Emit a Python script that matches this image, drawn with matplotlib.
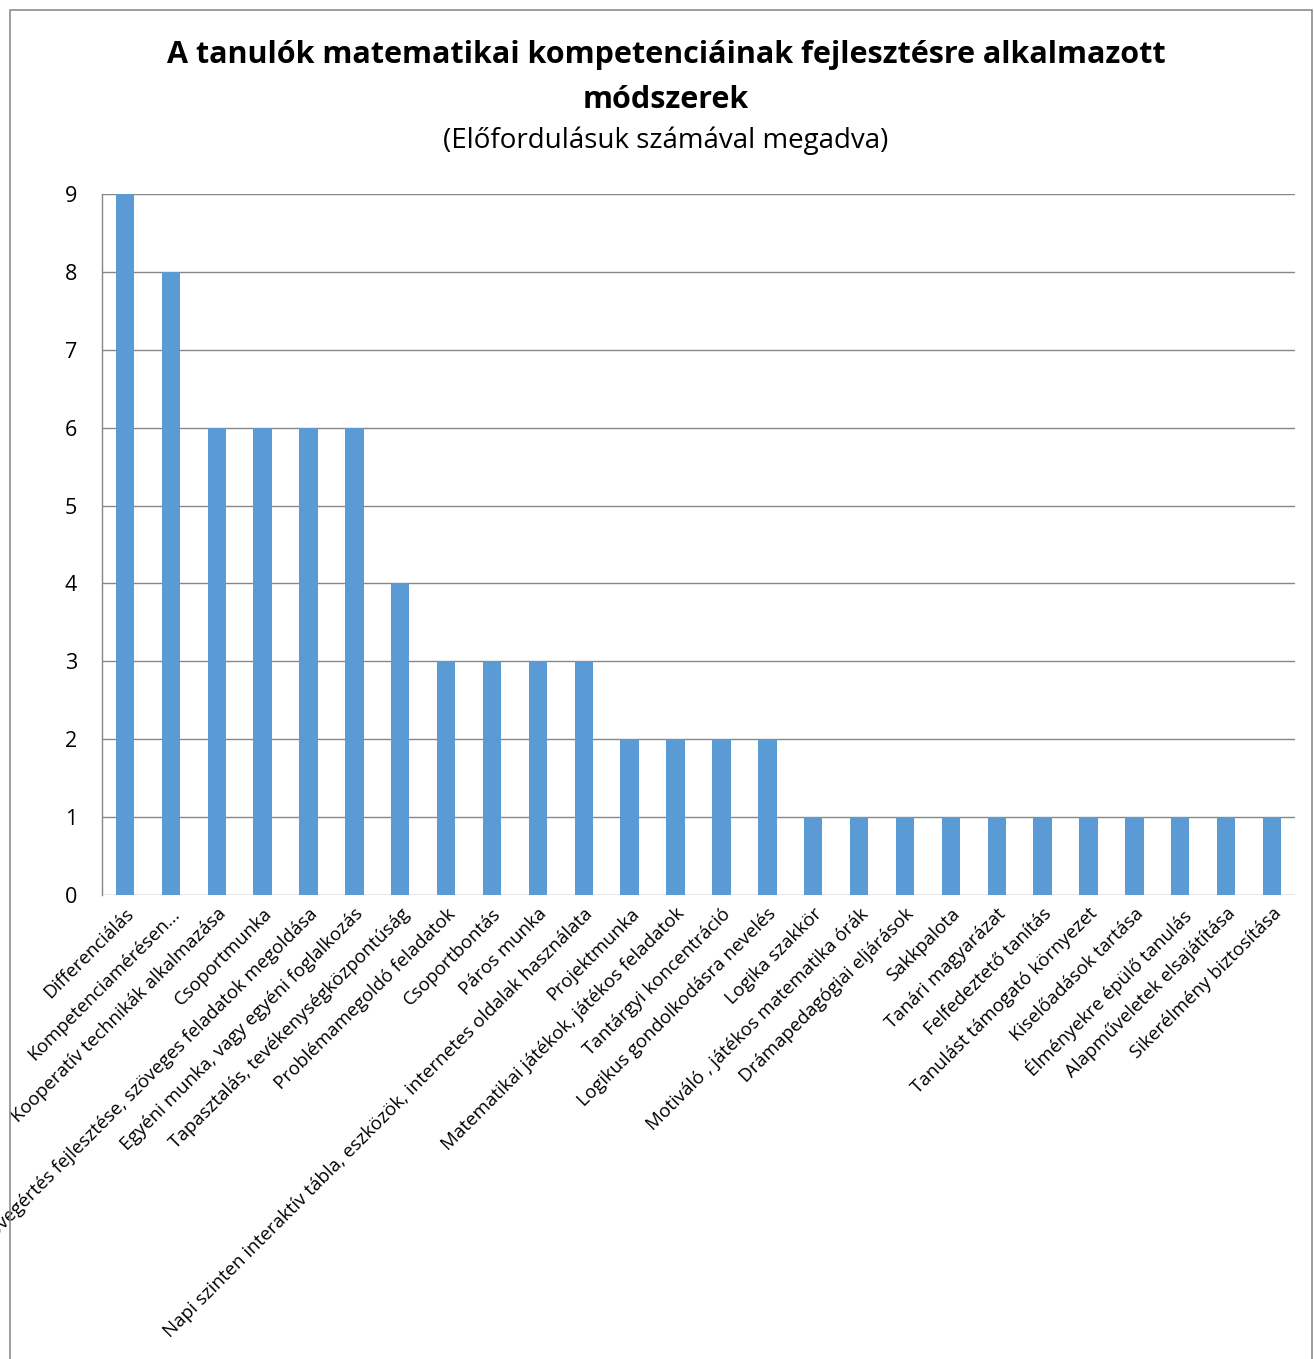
import matplotlib
matplotlib.use("Agg")
import matplotlib.pyplot as plt
from matplotlib.patches import Rectangle

plt.rcParams['font.family'] = ['Open Sans', 'DejaVu Sans']

title = "A tanulók matematikai kompetenciáinak fejlesztésre alkalmazott\nmódszerek"
subtitle = "(Előfordulásuk számával megadva)"

methods = [
    "Differenciálás",
    "Kompetenciamérésen...",
    "Kooperatív technikák alkalmazása",
    "Csoportmunka",
    "Szövegértés fejlesztése, szöveges feladatok megoldása",
    "Egyéni munka, vagy egyéni foglalkozás",
    "Tapasztalás, tevékenységközpontúság",
    "Problémamegoldó feladatok",
    "Csoportbontás",
    "Páros munka",
    "Napi szinten interaktív tábla, eszközök, internetes oldalak használata",
    "Projektmunka",
    "Matematikai játékok, játékos feladatok",
    "Tantárgyi koncentráció",
    "Logikus gondolkodásra nevelés",
    "Logika szakkör",
    "Motiváló , játékos matematika órák",
    "Drámapedagógiai eljárások",
    "Sakkpalota",
    "Tanári magyarázat",
    "Felfedeztető tanítás",
    "Tanulást támogató környezet",
    "Kiselőadások tartása",
    "Élményekre épülő tanulás",
    "Alapműveletek elsajátítása",
    "Sikerélmény biztosítása",
]
counts = [9, 8, 6, 6, 6, 6, 4, 3, 3, 3, 3, 2, 2, 2, 2,
          1, 1, 1, 1, 1, 1, 1, 1, 1, 1, 1]
y_ticks = list(range(0, 10))

W, H = 1314, 1359
fig = plt.figure(figsize=(W / 100, H / 100), dpi=100)

# chart frame
fig.patches.append(Rectangle((10 / W, -0.1), (1312 - 10) / W, 1.1 - 10 / H,
                             transform=fig.transFigure, fill=False,
                             edgecolor='#8c8c8c', linewidth=1.2))

ax = fig.add_axes([102 / W, 1 - 895 / H, (1295 - 102) / W, (895 - 194) / H])
x = list(range(len(methods)))
ax.bar(x, counts, width=0.4, color='#5B9BD5', zorder=3)
ax.set_xlim(-0.5, len(methods) - 0.5)
ax.set_ylim(0, 9)
ax.set_yticks(y_ticks)
ax.set_yticklabels([str(v) for v in y_ticks], fontsize=15.5)
ax.yaxis.grid(True, color='#878787', linewidth=1.0, zorder=0)
ax.tick_params(axis='y', length=0, pad=18)
ax.tick_params(axis='x', length=0, pad=7)
for s in ['top', 'right', 'bottom']:
    ax.spines[s].set_visible(False)
ax.spines['left'].set_color('#878787')
ax.spines['left'].set_linewidth(1.0)

ax.set_xticks(x)
ax.set_xticklabels(methods, rotation=45, ha='right', va='top',
                   rotation_mode='anchor', fontsize=13.5)

cx = 666 / W
line1, line2 = title.split("\n")
fig.text(cx, 1 - 55 / H, line1, ha='center', va='center',
         fontsize=22, fontweight='bold')
fig.text(cx, 1 - 100 / H, line2, ha='center', va='center',
         fontsize=22, fontweight='bold')
fig.text(cx, 1 - 141 / H, subtitle, ha='center', va='center', fontsize=20)

fig.savefig("out.png", dpi=100)
